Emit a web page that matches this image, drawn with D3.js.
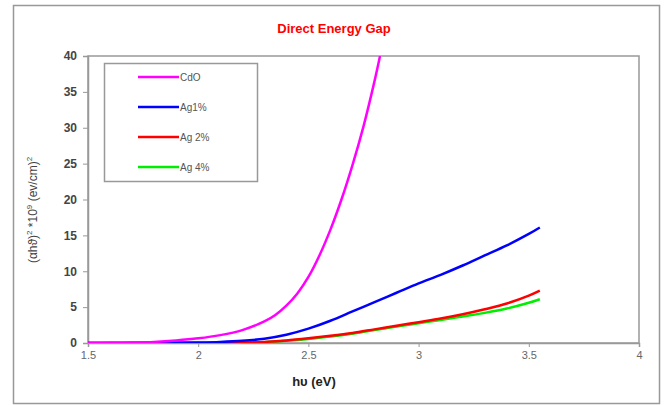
<!DOCTYPE html>
<html>
<head>
<meta charset="utf-8">
<script src="https://cdn.jsdelivr.net/npm/d3@7"></script>
<style>
  body { margin: 0; background: #fff; }
  text { font-family: "Liberation Sans", Arial, sans-serif; }
</style>
</head>
<body>
<div id="chart"></div>
<script>
var w = 666,
    h = 405;

// series: [hv (eV), value]
var cdo  = [[1.5,0],[1.6,0.02],[1.7,0.06],[1.8,0.15],[1.9,0.35],[2.0,0.65],[2.1,1.1],[2.2,1.8],[2.3,3.0],[2.35,3.9],[2.4,5.2],[2.45,6.9],[2.5,9.2],[2.55,12.2],[2.6,15.8],[2.65,20.0],[2.7,24.8],[2.75,30.2],[2.8,36.5],[2.825,40]];
var ag1  = [[1.5,0],[1.8,0.02],[2.0,0.08],[2.1,0.15],[2.2,0.3],[2.3,0.6],[2.4,1.15],[2.5,2.0],[2.6,3.1],[2.7,4.4],[2.8,5.7],[2.9,7.0],[3.0,8.3],[3.1,9.5],[3.2,10.8],[3.3,12.2],[3.4,13.6],[3.5,15.2],[3.55,16.1]];
var ag2  = [[1.5,0],[2.0,0.01],[2.2,0.05],[2.3,0.15],[2.4,0.35],[2.5,0.65],[2.6,1.0],[2.7,1.4],[2.8,1.9],[2.9,2.4],[3.0,2.9],[3.1,3.4],[3.2,4.0],[3.3,4.7],[3.4,5.5],[3.5,6.6],[3.55,7.3]];
var ag4  = [[1.5,0],[2.0,0.01],[2.2,0.04],[2.3,0.12],[2.4,0.3],[2.5,0.55],[2.6,0.9],[2.7,1.3],[2.8,1.8],[2.9,2.3],[3.0,2.75],[3.1,3.2],[3.2,3.7],[3.3,4.2],[3.4,4.8],[3.5,5.6],[3.55,6.1]];

var names  = ["CdO", "Ag1%", "Ag 2%", "Ag 4%"];
var colors = ["#ff00ff", "#0000ff", "#ff0000", "#00ee00"];
var xTicks = [1.5, 2, 2.5, 3, 3.5, 4];
var yTicks = [0, 5, 10, 15, 20, 25, 30, 35, 40];

var series = [cdo, ag1, ag2, ag4];

var svg = d3.select("#chart").append("svg")
  .attr("width", w)
  .attr("height", h);

// outer frame
svg.append("rect")
  .attr("x", 13.5).attr("y", 5.5)
  .attr("width", 646).attr("height", 398)
  .attr("fill", "none").attr("stroke", "#999").attr("stroke-width", 1.5);

var pLeft = 88, pRight = 639, pTop = 56, pBottom = 343;

var x = d3.scaleLinear().domain([1.5, 4]).range([pLeft, pRight]);
var y = d3.scaleLinear().domain([0, 40]).range([pBottom, pTop]);

// plot box
svg.append("rect")
  .attr("x", pLeft).attr("y", pTop)
  .attr("width", pRight - pLeft).attr("height", pBottom - pTop)
  .attr("fill", "none").attr("stroke", "#999").attr("stroke-width", 1.5);

svg.append("defs").append("clipPath").attr("id", "clip")
  .append("rect")
  .attr("x", pLeft).attr("y", pTop)
  .attr("width", pRight - pLeft).attr("height", pBottom - pTop);

var xAxis = svg.append("g")
  .attr("transform", "translate(0," + pBottom + ")")
  .call(d3.axisBottom(x).tickValues(xTicks).tickSize(4).tickPadding(4)
    .tickFormat(d3.format("")));
xAxis.select(".domain").attr("stroke", "#999").attr("stroke-width", 1.5);
xAxis.selectAll(".tick line").attr("stroke", "#999");
xAxis.selectAll(".tick text").attr("fill", "#666").attr("font-size", 11);

var yAxis = svg.append("g")
  .attr("transform", "translate(" + pLeft + ",0)")
  .call(d3.axisLeft(y).tickValues(yTicks).tickSize(5).tickPadding(6));
yAxis.select(".domain").attr("stroke", "#999").attr("stroke-width", 1.5);
yAxis.selectAll(".tick line").attr("stroke", "#999");
yAxis.selectAll(".tick text").attr("fill", "#444").attr("font-size", 12)
  .attr("font-weight", "bold");

// curves
var line = d3.line()
  .x(function(d) { return x(d[0]); })
  .y(function(d) { return y(d[1]); })
  .curve(d3.curveCatmullRom.alpha(0.5));

svg.append("g").attr("clip-path", "url(#clip)")
  .selectAll("path")
  .data(series.slice().reverse())
  .enter().append("path")
  .attr("d", line)
  .attr("fill", "none")
  .attr("stroke-width", 2.5)
  .attr("stroke-linejoin", "round")
  .attr("stroke", function(d, i) { return colors[series.length - 1 - i]; });

// title and axis labels
svg.append("text")
  .attr("x", 334).attr("y", 33)
  .attr("text-anchor", "middle")
  .attr("fill", "#ff0000").attr("font-size", 13).attr("font-weight", "bold")
  .text("Direct Energy Gap");

svg.append("text")
  .attr("x", 314).attr("y", 386)
  .attr("text-anchor", "middle")
  .attr("fill", "#222").attr("font-size", 13).attr("font-weight", "bold")
  .text("hυ (eV)");

svg.append("text")
  .attr("transform", "translate(37,210) rotate(-90)")
  .attr("text-anchor", "middle")
  .attr("fill", "#444").attr("font-size", 12)
  .html('(αhϑ)<tspan dy="-5" font-size="8">2</tspan><tspan dy="5"> *10</tspan><tspan dy="-5" font-size="8">9</tspan><tspan dy="5"> (ev/cm)</tspan><tspan dy="-5" font-size="8">2</tspan>');

// legend
var legend = svg.append("g");
legend.append("rect")
  .attr("x", 104.5).attr("y", 63.5)
  .attr("width", 153).attr("height", 118)
  .attr("fill", "#fff").attr("stroke", "#999").attr("stroke-width", 1.5);

var rows = legend.selectAll(".row")
  .data(names)
  .enter().append("g")
  .attr("transform", function(d, i) { return "translate(0," + (77 + i * 30) + ")"; });

rows.append("line")
  .attr("x1", 138).attr("x2", 179)
  .attr("stroke-width", 2.5)
  .attr("stroke", function(d, i) { return colors[i]; });

rows.append("text")
  .attr("x", 180).attr("y", 4)
  .attr("fill", "#555").attr("font-size", 10)
  .text(function(d) { return d; });
</script>
</body>
</html>
